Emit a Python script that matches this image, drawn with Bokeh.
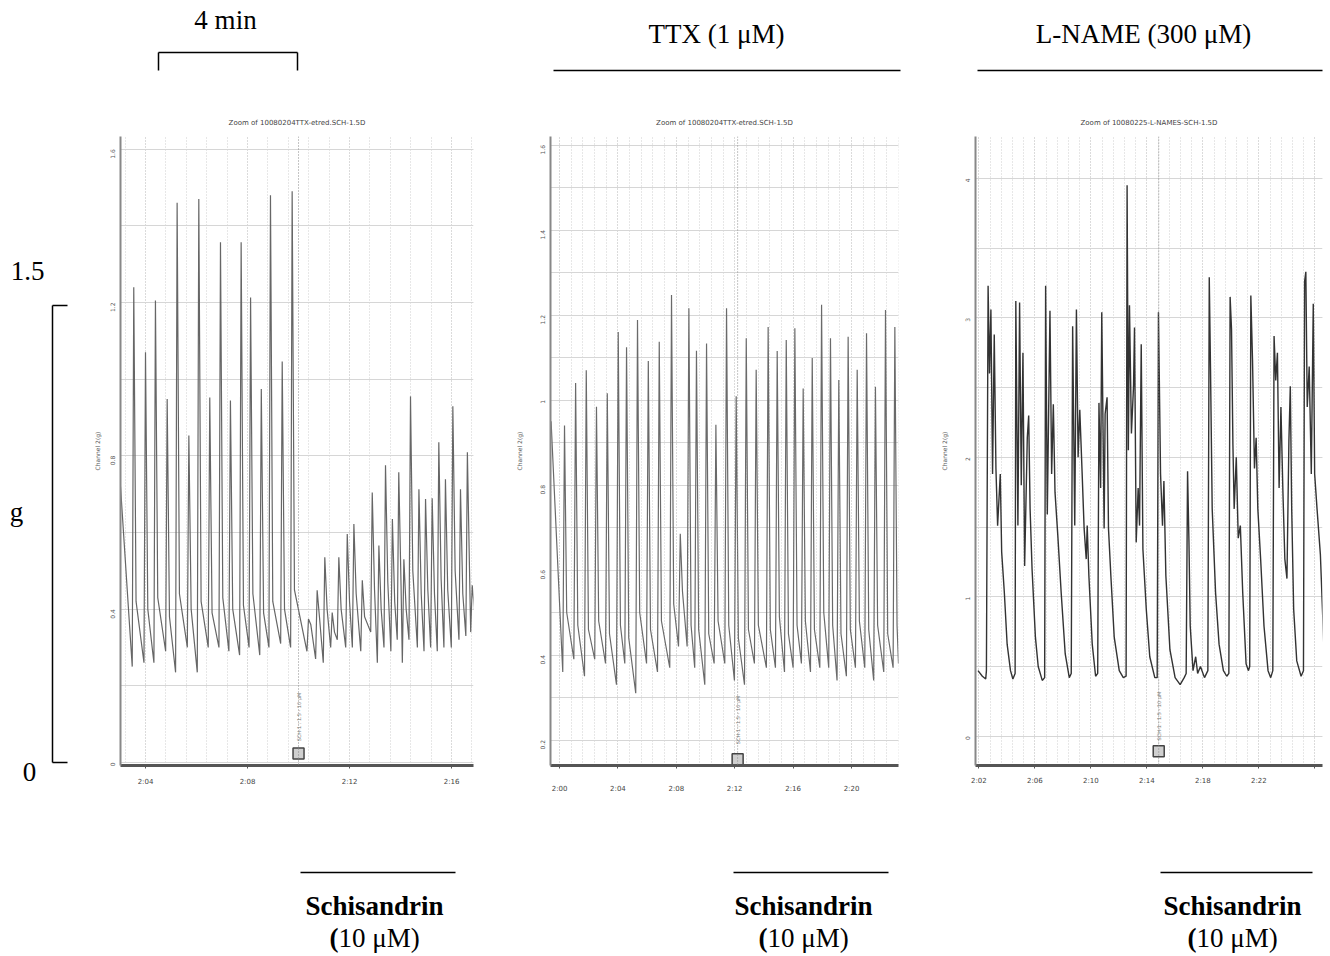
import math
from bokeh.plotting import figure
from bokeh.layouts import row, column
from bokeh.models import Range1d, SingleIntervalTicker, Span
from bokeh.core.properties import value
from bokeh.embed import file_html
from bokeh.resources import INLINE

SERIF = "Liberation Serif"
SANS = "DejaVu Sans"

# ---------------- data ----------------
# Panel 1 (control): spike times (min), peak / trough / shoulder tension (g)
P1_PEAK_T = [3.54, 4.00, 4.39, 4.85, 5.24, 5.70, 6.09, 6.52, 6.94, 7.33, 7.75, 8.12, 8.54, 8.90, 9.36, 9.75,
             10.39, 10.73, 11.03, 11.32, 11.58, 11.91, 12.17, 12.50, 12.89, 13.15, 13.41, 13.68, 13.93, 14.13,
             14.39, 14.72, 14.98, 15.24, 15.50, 15.76, 16.05, 16.35, 16.62, 16.81]
P1_PEAK_V = [1.24, 1.07, 1.205, 0.948, 1.46, 0.853, 1.47, 0.952, 1.357, 0.944, 1.357, 1.213, 0.974, 1.48, 1.046, 1.49,
             0.374, 0.449, 0.535, 0.391, 0.535, 0.596, 0.622, 0.475, 0.704, 0.566, 0.775, 0.635, 0.757, 0.530,
             0.955, 0.713, 0.687, 0.689, 0.835, 0.739, 0.929, 0.713, 0.809, 0.462]
P1_TROUGH_V = [0.25, 0.26, 0.26, 0.29, 0.235, 0.30, 0.235, 0.30, 0.30, 0.29, 0.28, 0.30, 0.28, 0.30, 0.31, 0.30,
               0.29, 0.27, 0.26, 0.30, 0.32, 0.30, 0.30, 0.29, 0.34, 0.26, 0.30, 0.29, 0.32, 0.26,
               0.32, 0.30, 0.29, 0.30, 0.29, 0.30, 0.30, 0.32, 0.33, 0.34]
P1_SHOULDER_V = [0.42, 0.40, 0.43, 0.38, 0.44, 0.40, 0.42, 0.39, 0.43, 0.40, 0.41, 0.44, 0.39, 0.42, 0.40, 0.45,
                 0.36, 0.38, 0.40, 0.34, 0.40, 0.42, 0.44, 0.38, 0.45, 0.40, 0.47, 0.42, 0.46, 0.40,
                 0.50, 0.44, 0.45, 0.44, 0.48, 0.45, 0.50, 0.44, 0.48, 0.40]
P1_EDGE_T = [3.02, 16.86]
P1_EDGE_V = [0.72, 0.40]
P1_MARK_T = 10.0
P1_TICKS = [4, 8, 12, 16]
P1_TICK_LABELS = ["2:04", "2:08", "2:12", "2:16"]

# Panel 2 (TTX)
P2_PEAK_T = [0.34, 1.10, 1.83, 2.53, 3.27, 4.02, 4.59, 5.34, 6.08, 6.83,
             7.67, 8.27, 8.86, 9.38, 10.07, 10.71, 11.44, 12.10, 12.79, 13.47,
             14.29, 14.91, 15.53, 16.12, 16.69, 17.31, 17.95, 18.56, 19.13, 19.77,
             20.39, 21.03, 21.64, 22.33, 22.97]
P2_PEAK_V = [0.94, 1.04, 1.07, 0.984, 1.016, 1.16, 1.124, 1.188, 1.092, 1.137,
             1.247, 0.685, 1.216, 1.116, 1.133, 0.942, 1.216, 1.009, 1.145, 1.071,
             1.172, 1.115, 1.141, 1.169, 1.027, 1.099, 1.224, 1.145, 1.047, 1.149,
             1.071, 1.157, 1.031, 1.212, 1.172]
P2_TROUGH_V = [0.36, 0.39, 0.35, 0.39, 0.38, 0.33, 0.38, 0.31, 0.38, 0.36,
               0.37, 0.42, 0.42, 0.37, 0.33, 0.38, 0.38, 0.34, 0.33, 0.38,
               0.37, 0.37, 0.36, 0.37, 0.38, 0.36, 0.37, 0.37, 0.34, 0.35,
               0.37, 0.37, 0.34, 0.36, 0.37]
P2_SHOULDER_V = [0.50, 0.47, 0.46, 0.48, 0.45, 0.47, 0.44, 0.50, 0.46, 0.48,
                 0.52, 0.55, 0.47, 0.46, 0.45, 0.48, 0.47, 0.44, 0.46, 0.47,
                 0.46, 0.49, 0.45, 0.47, 0.48, 0.46, 0.50, 0.47, 0.45, 0.46,
                 0.48, 0.46, 0.47, 0.45, 0.47]
P2_EDGE_T = [-0.58, 23.22]
P2_EDGE_V = [0.95, 0.38]
P2_MARK_T = 12.2
P2_TICKS = [0, 4, 8, 12, 16, 20]
P2_TICK_LABELS = ["2:00", "2:04", "2:08", "2:12", "2:16", "2:20"]

# Panel 3 (L-NAME): sampled trace
P3_T = [-0.06, 0.25, 0.49, 0.54, 0.66, 0.76, 0.86, 0.98, 1.10, 1.22, 1.34, 1.53, 1.63, 1.82, 2.02, 2.26, 2.43,
        2.59, 2.64, 2.79, 2.91, 3.03, 3.15, 3.27, 3.46, 3.56, 3.66, 3.80, 4.04, 4.24, 4.53,
        4.70, 4.77, 4.89, 5.08, 5.20, 5.32, 5.44, 5.64, 5.88, 6.17, 6.46,
        6.60, 6.70, 6.85, 6.97, 7.09, 7.21, 7.38, 7.52, 7.67, 7.74, 7.86, 8.10, 8.34,
        8.49, 8.58, 8.70, 8.78, 8.95, 9.02, 9.16, 9.26, 9.43, 9.67, 10.03, 10.32,
        10.52, 10.59, 10.68, 10.76, 10.90, 11.05, 11.12, 11.24, 11.38, 11.48, 11.60, 11.72, 11.96, 12.21, 12.57,
        12.74, 12.83, 12.98, 13.12, 13.22, 13.36, 13.65, 14.02, 14.38, 14.67,
        14.81, 14.91, 15.01, 15.10, 15.30, 15.49, 15.63, 15.83, 16.12,
        16.36, 16.46, 16.55, 16.67, 16.91, 17.16, 17.47, 17.71,
        17.86, 17.95, 18.05, 18.15, 18.24, 18.39, 18.53, 18.68, 18.85, 19.09, 19.26,
        19.35, 19.43, 19.55, 19.69, 19.81, 19.93, 20.13, 20.37, 20.66, 20.85,
        21.00, 21.09, 21.21, 21.33, 21.45, 21.58, 21.72, 21.86, 22.01, 22.15, 22.25, 22.35, 22.49, 22.71, 23.02,
        23.19, 23.27, 23.36, 23.46, 23.60, 23.75, 23.89, 23.99, 24.16, 24.40, 24.64, 24.95,
        25.24, 25.34]
P3_V = [0.47, 0.43, 0.41, 0.47, 3.23, 2.60, 3.06, 1.88, 2.88, 1.92, 1.51, 1.88, 1.32, 1.03, 0.66, 0.47, 0.41,
        0.45, 3.12, 1.51, 3.11, 1.80, 2.75, 1.22, 2.14, 2.30, 1.63, 1.20, 0.71, 0.50, 0.40,
        0.42, 3.23, 1.59, 3.05, 1.88, 2.38, 1.75, 1.44, 1.03, 0.59, 0.42,
        0.45, 2.94, 1.51, 3.06, 2.00, 2.34, 1.88, 1.49, 1.27, 1.51, 1.15, 0.66, 0.43,
        0.45, 2.39, 1.78, 3.04, 1.49, 2.31, 2.43, 1.49, 1.15, 0.71, 0.47, 0.42,
        0.43, 3.95, 2.05, 3.09, 2.17, 2.51, 2.93, 1.39, 1.78, 1.51, 2.81, 1.34, 0.91, 0.57, 0.42,
        0.42, 3.04, 1.88, 1.51, 1.83, 1.15, 0.62, 0.42, 0.37, 0.42,
        0.45, 1.90, 1.39, 0.79, 0.47, 0.57, 0.45, 0.50, 0.42,
        0.47, 3.29, 2.63, 1.63, 1.03, 0.66, 0.47, 0.43,
        0.45, 3.15, 2.92, 2.09, 1.63, 2.00, 1.42, 1.51, 1.03, 0.52, 0.47,
        0.50, 3.16, 2.70, 1.92, 2.14, 1.63, 1.27, 0.79, 0.47, 0.42,
        0.47, 2.87, 2.55, 2.75, 1.78, 2.36, 1.76, 1.27, 1.13, 2.12, 2.51, 1.63, 0.91, 0.54, 0.43,
        0.47, 3.26, 3.33, 2.36, 2.65, 1.88, 3.10, 1.88, 1.63, 1.30, 0.66, 0.45,
        0.47, 1.06]
P3_MARK_T = 12.85
P3_TICKS = [0, 4, 8, 12, 16, 20, 24]
P3_TICK_LABELS = ["2:02", "2:06", "2:10", "2:14", "2:18", "2:22", ""]

TITLES = ["Zoom of 10080204TTX-etred.SCH-1.5D",
          "Zoom of 10080204TTX-etred.SCH-1.5D",
          "Zoom of 10080225-L-NAMES-SCH-1.5D"]
TOP_LABELS = ["4 min", "TTX (1 \u03bcM)", "L-NAME (300 \u03bcM)"]
DRUG = "Schisandrin"
DOSE_OPEN = "("
DOSE_REST = "10 \u03bcM)"
SCALE_LABELS = ["1.5", "g", "0"]

FONT_BIG = "27px"


def spike_trace(edge_t, edge_v, pt, pv, tv, sv, rise, fall):
    ts, vs = [edge_t[0]], [edge_v[0]]
    for a, b, c, d in zip(pt, pv, tv, sv):
        ts += [a - rise, a, a + fall]
        vs += [c, b, d]
    ts.append(edge_t[1])
    vs.append(edge_v[1])
    return ts, vs


# common vertical borders so the row's frames line up exactly (page y 136 .. 765)
ROW_H = 710
B_TOP = 36
B_BOT = 45


def panel(width, lr, xr, yr, title, ticks, labels, y_int, y_minor, xlab_standoff, ylab_standoff):
    l, r = lr
    p = figure(width=width, height=ROW_H, x_range=Range1d(*xr), y_range=Range1d(*yr),
               output_backend="svg", toolbar_location=None, title=title,
               min_border_left=l, min_border_right=r, min_border_top=B_TOP, min_border_bottom=B_BOT)
    p.title.text_font = SANS
    p.title.text_font_size = "7px"
    p.title.text_font_style = "normal"
    p.title.text_color = "#444444"
    p.title.align = "center"
    p.title.standoff = 19
    p.outline_line_color = None
    p.background_fill_color = "white"
    p.border_fill_color = "white"

    xt = SingleIntervalTicker(interval=4, num_minor_ticks=5)
    p.xaxis.ticker = xt
    p.xgrid.ticker = xt
    p.xaxis.major_label_overrides = {k: s for k, s in zip(ticks, labels)}
    p.xaxis.major_label_text_font = SANS
    p.xaxis.major_label_text_font_size = "7px"
    p.xaxis.major_label_text_color = "#444444"
    p.xaxis.major_label_standoff = xlab_standoff
    p.xaxis.axis_line_color = "#555555"
    p.xaxis.axis_line_width = 3
    p.xaxis.major_tick_line_color = "#555555"
    p.xaxis.major_tick_out = 3
    p.xaxis.major_tick_in = 0
    p.xaxis.minor_tick_line_color = None

    yt = SingleIntervalTicker(interval=y_int, num_minor_ticks=y_minor)
    p.yaxis.ticker = yt
    p.ygrid.ticker = yt
    p.yaxis.major_label_text_font = SANS
    p.yaxis.major_label_text_font_size = "6px"
    p.yaxis.major_label_text_color = "#555555"
    p.yaxis.major_label_orientation = math.pi / 2
    p.yaxis.major_label_standoff = 2
    p.yaxis.axis_line_color = "#888888"
    p.yaxis.axis_line_width = 2
    p.yaxis.major_tick_line_color = None
    p.yaxis.minor_tick_line_color = None
    p.yaxis.axis_label = "Channel 2(g)"
    p.yaxis.axis_label_text_font = SANS
    p.yaxis.axis_label_text_font_size = "6px"
    p.yaxis.axis_label_text_font_style = "normal"
    p.yaxis.axis_label_text_color = "#555555"
    p.yaxis.axis_label_standoff = ylab_standoff

    p.xgrid.grid_line_color = "#cfcfcf"
    p.xgrid.grid_line_dash = "1 2"
    p.xgrid.minor_grid_line_color = "#cfcfcf"
    p.xgrid.minor_grid_line_dash = "1 2"
    p.ygrid.grid_line_color = "#d6d6d6"
    p.ygrid.minor_grid_line_color = "#d6d6d6"
    return p


def add_marker(p, t_mark, sq_v, txt_v):
    p.add_layout(Span(location=t_mark, dimension="height", line_color="#8a8a8a",
                      line_dash="1 2", line_width=1))
    p.text(x=[t_mark], y=[txt_v], text=["SCH-1 : 1.5 - 10 \u03bcM"], angle=math.pi / 2,
           text_font=value(SANS), text_font_size="5px", text_color="#777777",
           text_align="left", text_baseline="middle")
    p.scatter(x=[t_mark], y=[sq_v], marker="square", size=11, fill_color="#cfcfcf",
              line_color="#444444", line_width=1.5)


# ---------------- panels (page x: 88-490, 490-905, 905-1328) ----------------
p1 = panel(402, (32, 17), (3.02, 16.86), (-0.008, 1.633), TITLES[0],
           P1_TICKS, P1_TICK_LABELS, 0.4, 2, 8, 4)
t1, v1 = spike_trace(P1_EDGE_T, P1_EDGE_V, P1_PEAK_T, P1_PEAK_V, P1_TROUGH_V, P1_SHOULDER_V, 0.06, 0.09)
p1.line(t1, v1, line_color="#666666", line_width=1.2)
add_marker(p1, P1_MARK_T, 0.023, 0.055)

p2 = panel(415, (60, 7), (-0.62, 23.22), (0.14, 1.62), TITLES[1],
           P2_TICKS, P2_TICK_LABELS, 0.2, 2, 15, 12)
t2, v2 = spike_trace(P2_EDGE_T, P2_EDGE_V, P2_PEAK_T, P2_PEAK_V, P2_TROUGH_V, P2_SHOULDER_V, 0.12, 0.15)
p2.line(t2, v2, line_color="#6a6a6a", line_width=1.2)
add_marker(p2, P2_MARK_T, 0.155, 0.19)

p3 = panel(423, (70, 6), (-0.24, 24.55), (-0.21, 4.30), TITLES[2],
           P3_TICKS, P3_TICK_LABELS, 1, 2, 7, 12)
p3.line(P3_T, P3_V, line_color="#333333", line_width=1.4)
add_marker(p3, P3_MARK_T, -0.107, -0.03)


# ---------------- annotation strips (page-pixel coordinates) ----------------
def strip(w, h, xr, yr):
    p = figure(width=w, height=h, x_range=Range1d(*xr), y_range=Range1d(*yr),
               output_backend="svg", toolbar_location=None, x_axis_type=None, y_axis_type=None,
               min_border=0)
    p.outline_line_color = None
    p.background_fill_color = "white"
    p.border_fill_color = "white"
    return p


def label(p, x, y, s, bold=False, align="center"):
    p.text(x=[x], y=[y], text=[s], text_font=value(SERIF), text_font_size=FONT_BIG,
           text_font_style="bold" if bold else "normal", text_align=align,
           text_baseline="middle", text_color="black")


# left scale-bar strip: page x 0-88, y 0-954
left = strip(88, 954, (0, 88), (954, 0))
label(left, 27, 270, SCALE_LABELS[0])
label(left, 16, 511, SCALE_LABELS[1])
label(left, 29, 771, SCALE_LABELS[2])
left.segment(x0=[52, 52, 52], y0=[305, 305, 762], x1=[52, 67, 67], y1=[762, 305, 762],
             line_color="black", line_width=1.5)

# top strip: page x 88-1328, y 0-100
top = strip(1240, 100, (88, 1328), (100, 0))
label(top, 225, 19, TOP_LABELS[0])
top.segment(x0=[158, 158, 297], y0=[52, 52, 52], x1=[297, 158, 297], y1=[52, 70, 70],
            line_color="black", line_width=1.5)
label(top, 716, 33, TOP_LABELS[1])
label(top, 1143, 33, TOP_LABELS[2])
top.segment(x0=[553, 977], y0=[70, 70], x1=[900, 1322], y1=[70, 70],
            line_color="black", line_width=1.5)

# bottom strip: page x 88-1328, y 810-954
bottom = strip(1240, 144, (88, 1328), (954, 810))
bottom.segment(x0=[300, 733, 1160], y0=[872, 872, 872], x1=[455, 888, 1312], y1=[872, 872, 872],
               line_color="black", line_width=1.5)
for cx in [374, 803, 1232]:
    label(bottom, cx, 905, DRUG, bold=True)
    label(bottom, cx - 36, 937, DOSE_OPEN, bold=True, align="right")
    label(bottom, cx - 36, 937, DOSE_REST, align="left")

layout = row(left, column(top, row(p1, p2, p3), bottom))
open("out.html", "w").write(file_html(layout, INLINE))
